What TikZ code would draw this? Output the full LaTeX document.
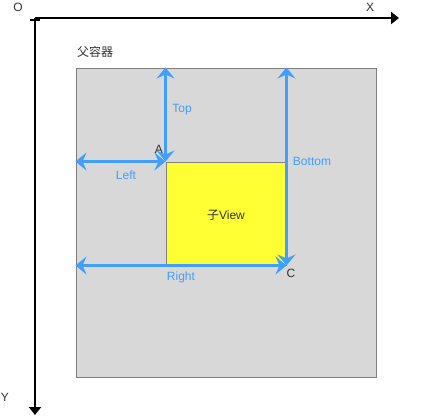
\documentclass[tikz,border=0pt]{standalone}
\usepackage{fontspec}
\setmainfont{Liberation Sans}
\newfontfamily\cjk{Noto Sans CJK SC}
\usetikzlibrary{arrows.meta}
\definecolor{dimblue}{RGB}{64,158,255}
\definecolor{boxgray}{RGB}{216,216,216}
\definecolor{childyellow}{RGB}{255,255,51}
\begin{document}
\begin{tikzpicture}[x=1pt, y=-1pt,
    every node/.style={font=\fontsize{12}{14}\selectfont, text=black!80, inner sep=0pt},
    axis/.style={line width=2pt, -{Triangle[length=8pt, width=12pt]}},
    dim/.style={draw=dimblue, line width=3pt, {Stealth[length=11pt, width=18pt, inset=4pt]}-{Stealth[length=11pt, width=18pt, inset=4pt]}},
    dimlabel/.style={text=dimblue}]
  \useasboundingbox (0,0) rectangle (437,416);
  % axes
  \coordinate (origin) at (35,18);
  \coordinate (xend) at (399,18);
  \coordinate (yend) at (35,415);
  \draw[axis] (origin) -- (xend);
  \draw[axis] (origin) -- (yend);
  \draw[line width=2pt] (30,20) -- (40,20);
  \node (o) at (18,7) {O};
  \node (x) at (370,7) {X};
  \node (y) at (5,397) {Y};
  % boxes
  \node (parent) at (226,222.5) [draw=black!50, line width=1pt, fill=boxgray, minimum width=300pt, minimum height=309pt] {};
  \node (parentname) at (95,52) {\cjk 父容器};
  \node (child) at (226,213.5) [draw=black!50, line width=1pt, fill=childyellow, minimum width=120pt, minimum height=103pt] {};
  \node (childname) at (226,215) {{\cjk 子}View};
  % margins
  \foreach \source/\dest in {child.north west/{child.north west |- parent.north}, {parent.west |- child.north west}/child.north west, child.south east/{child.south east |- parent.north}, {parent.west |- child.south east}/child.south east}
    \draw[dim] (\source) -- (\dest);
  \node (top) at (182,110) [dimlabel] {Top};
  \node (left) at (126,175) [dimlabel] {Left};
  \node (bottom) at (312,161) [dimlabel] {Bottom};
  \node (right) at (181,277) [dimlabel] {Right};
  \node (a) at (159,149) {A};
  \node (c) at (291,273) {C};
\end{tikzpicture}
\end{document}
